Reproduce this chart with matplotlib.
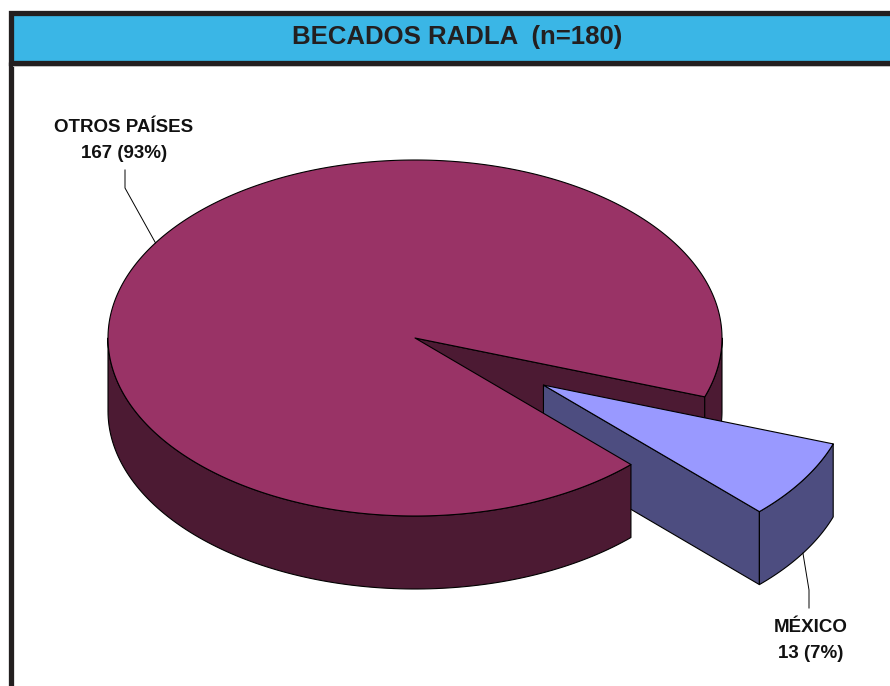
import numpy as np
import matplotlib
matplotlib.use("Agg")
import matplotlib.pyplot as plt
from matplotlib.patches import Polygon, Rectangle

# ---------------- data ----------------
title = "BECADOS RADLA  (n={})"
categories = ["OTROS PAÍSES", "MÉXICO"]
values = [167, 13]
top_colors = ["#993366", "#9999FF"]
side_colors = ["#4C1A33", "#4D4D80"]
explode = [0.0, 0.495]

# ---------------- layout ----------------
W, H = 890, 686
cx, cy = 415, 338          # centre of top ellipse (pixels)
a, b = 307, 178            # ellipse radii
depth = 73                 # thickness of the pie
start_angle = -19.3        # degrees, counter-clockwise

plt.rcParams["font.family"] = ["Liberation Sans", "DejaVu Sans"]
fig = plt.figure(figsize=(W / 100, H / 100), dpi=100)
ax = fig.add_axes([0, 0, 1, 1])
ax.set_xlim(0, W)
ax.set_ylim(H, 0)
ax.axis("off")

# frame / title band
ax.add_patch(Rectangle((10.5, 12.5), 1000, 50, facecolor="#3AB6E6",
                       edgecolor="#231F20", lw=3.8, zorder=1))
ax.plot([10.5, 10.5], [62, H + 10], color="#231F20", lw=3.8, zorder=1,
        solid_capstyle="butt")
ax.plot([13, W], [66, 66], color="#BBBBBB", lw=0.6, zorder=1)
ax.text(457, 37, title.format(sum(values)), ha="center", va="center",
        fontsize=18.5, fontweight="bold", color="#231F20", zorder=2)

total = float(sum(values))
lw = 0.8


def pt(t, ox, oy, dz=0.0):
    return (cx + ox + a * np.cos(t), cy + oy - b * np.sin(t) + dz)


def arc(t0, t1, ox, oy, dz=0.0, n=120):
    ts = np.linspace(t0, t1, n)
    return [pt(t, ox, oy, dz) for t in ts]


slices = []
ang = start_angle
for i, v in enumerate(values):
    span = v / total * 360.0
    s, e = ang, ang + span
    m = np.radians((s + e) / 2)
    d = explode[i] * a
    ox, oy = d * np.cos(m), -d * (b / a) * np.sin(m)
    slices.append(dict(s=s, e=e, ox=ox, oy=oy, i=i))
    ang = e


def front_segments(s, e):
    # split [s, e] at multiples of 180 deg; keep parts facing the viewer
    cuts = [s]
    k = np.ceil(s / 180.0) * 180.0
    while k < e:
        if k > s:
            cuts.append(k)
        k += 180.0
    cuts.append(e)
    segs = []
    for u, v in zip(cuts[:-1], cuts[1:]):
        if np.sin(np.radians((u + v) / 2)) < 0:
            segs.append((u, v))
    return segs


def cut_face(theta, sl, color, z):
    t = np.radians(theta)
    c0 = (cx + sl["ox"], cy + sl["oy"])
    p = pt(t, sl["ox"], sl["oy"])
    poly = [c0, p, (p[0], p[1] + depth), (c0[0], c0[1] + depth)]
    ax.add_patch(Polygon(poly, closed=True, facecolor=color, edgecolor="black",
                         lw=lw, zorder=z, joinstyle="round"))


def side(u, v, sl, color, z):
    t0, t1 = np.radians(u), np.radians(v)
    poly = arc(t0, t1, sl["ox"], sl["oy"]) + arc(t1, t0, sl["ox"], sl["oy"], depth)
    ax.add_patch(Polygon(poly, closed=True, facecolor=color, edgecolor="black",
                         lw=lw, zorder=z, joinstyle="round"))


def top(sl, color, z):
    t0, t1 = np.radians(sl["s"]), np.radians(sl["e"])
    poly = [(cx + sl["ox"], cy + sl["oy"])] + arc(t0, t1, sl["ox"], sl["oy"], n=400)
    ax.add_patch(Polygon(poly, closed=True, facecolor=color, edgecolor="black",
                         lw=lw, zorder=z, joinstyle="round"))


for sl in slices:
    i = sl["i"]
    exploded = explode[i] > 0
    base = 20 if exploded else 10
    # visible cut faces
    if np.cos(np.radians(sl["s"])) > 0:
        cut_face(sl["s"], sl, side_colors[i], base + 1)
    if np.cos(np.radians(sl["e"])) < 0:
        cut_face(sl["e"], sl, side_colors[i], base + 1)
    for (u, v) in front_segments(sl["s"], sl["e"]):
        if exploded:
            z = base + 2
        else:
            z = base + 2 if abs(u - sl["s"]) < 1e-9 else 32
        side(u, v, sl, side_colors[i], z)
    top(sl, top_colors[i], base + 3 if exploded else 33)

# ---------------- labels ----------------
lab_kw = dict(ha="center", va="center", fontsize=13.5, fontweight="bold",
              color="#111111", zorder=40)
# OTROS PAÍSES (leader from top rim at mid angle)
s0 = slices[0]
m0 = np.radians((s0["s"] + s0["e"]) / 2)
p0 = pt(m0, s0["ox"], s0["oy"])
ax.plot([p0[0], 125, 125], [p0[1], 188, 170], color="black", lw=0.7, zorder=40)
ax.text(124, 127, categories[0], **lab_kw)
ax.text(124, 154, f"{values[0]} ({values[0] / total * 100:.0f}%)", **lab_kw)

# MÉXICO (leader from bottom rim at mid angle)
s1 = slices[1]
m1 = np.radians((s1["s"] + s1["e"]) / 2)
p1 = pt(m1, s1["ox"], s1["oy"], depth)
ax.plot([p1[0], 809, 809], [p1[1], 590, 608], color="black", lw=0.7, zorder=40)
ax.text(811, 627, categories[1], **lab_kw)
ax.text(811, 653, f"{values[1]} ({values[1] / total * 100:.0f}%)", **lab_kw)

fig.savefig("out.png", dpi=100)
